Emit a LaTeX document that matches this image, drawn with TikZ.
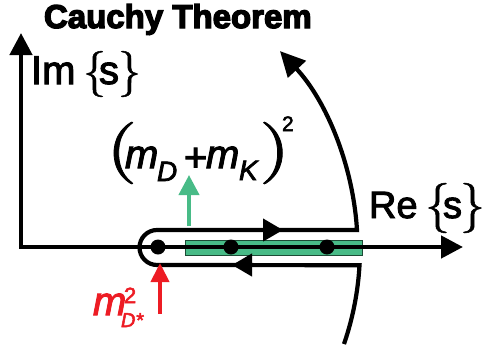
\documentclass[tikz,border=0pt]{standalone}
\usepackage{fontspec}
\setmainfont{Liberation Sans}[FakeBold=2.5]
\newfontfamily\titlefont{Liberation Sans Bold}[FakeBold=4]
\newfontfamily\itfont{Liberation Sans Italic}[FakeBold=2.5]
\newfontfamily\lmfont{lmroman10-regular.otf}[FakeBold=1]
\usetikzlibrary{arrows.meta}
\definecolor{cgreen}{HTML}{48BB87}
\definecolor{cred}{HTML}{ED1C24}
\begin{document}
\begin{tikzpicture}[x=1pt,y=-1pt,
  txt/.style={inner sep=0pt, outer sep=0pt, anchor=base west},
  axisline/.style={line width=4.5pt, {Triangle[length=22pt,width=22pt]}-{Triangle[length=22pt,width=22pt]}},
  contour/.style={line width=4.2pt, line join=miter},
  midtip/.style={line width=4.2pt, -{Triangle[length=20pt,width=22pt]}},
  dot/.style={fill=black},
  fs/.style 2 args={font=\fontsize{#1}{#1}\selectfont #2}
]
\useasboundingbox (0,0) rectangle (482,346);

% green bar
\draw[fill=cgreen, draw=black!60!cgreen, line width=0.9pt] (185,240) rectangle (362,255);

% axes
\coordinate (xtip) at (463,247);
\coordinate (orig) at (21,247);
\coordinate (ytip) at (21,33);
\draw[axisline] (xtip) -- (orig) -- (ytip);

% poles
\fill[dot] (158,247) circle[radius=7.5];
\fill[dot] (231,247) circle[radius=7.5];
\fill[dot] (327,247) circle[radius=7.5];

% contour
\coordinate (lowend) at (344,344);
\draw[contour, -{Triangle[length=25pt,width=24pt]}] (lowend)
  arc[start angle=19, end angle=3.3, radius=294] -- (157,265)
  arc[start angle=90, end angle=270, radius=17.5] -- (357,230)
  arc[start angle=-3.6, end angle=-43, radius=289];
\coordinate (ua) at (262,230); \coordinate (ub) at (283,230);
\draw[midtip] (ua) -- (ub);
\coordinate (la) at (252,265); \coordinate (lb) at (232,265);
\draw[midtip] (la) -- (lb);

% green and red arrows
\coordinate (ga) at (189,226); \coordinate (gb) at (189,175);
\draw[line width=4pt, cgreen, -{Triangle[length=20pt,width=20pt]}] (ga) -- (gb);
\coordinate (ra) at (160,314); \coordinate (rb) at (160,263);
\draw[line width=4pt, cred, -{Triangle[length=19pt,width=18pt]}] (ra) -- (rb);

% title
\node[txt, fs={33}{\titlefont}] (title) at (44,28) {Cauchy Theorem};

% Im{s}
\node[txt, fs={40}{}] (im) at (31,84) {Im};
\node[txt, fs={46}{\lmfont}] (imlb) at (83,85.5) {\{};
\node[txt, fs={40}{}] (ims) at (99,84) {s};
\node[txt, fs={46}{\lmfont}] (imrb) at (118,85.5) {\}};

% Re{s}
\node[txt, fs={38}{}] (re) at (369,218) {Re};
\node[txt, fs={50}{\lmfont}] (relb) at (425,220.5) {\{};
\node[txt, fs={38}{}] (res) at (443,218) {s};
\node[txt, fs={50}{\lmfont}] (rerb) at (460,220.5) {\}};

% (m_D + m_K)^2
\node[txt, fs={62}{\lmfont}] (lp) at (106,168.5) {\scalebox{1.3}[1]{(}};
\node[txt, fs={40}{\itfont}] (m1) at (125,168) {m};
\node[txt, fs={28}{\itfont}] (sd) at (157,181) {D};
\node[txt, fs={40}{}] (plus) at (184,171) {+};
\node[txt, fs={40}{\itfont}] (m2) at (206,168) {m};
\node[txt, fs={28}{\itfont}] (sk) at (239,180) {K};
\node[txt, fs={62}{\lmfont}] (rp) at (259,168.5) {\scalebox{1.3}[1]{)}};
\node[txt, fs={21}{}] (sq) at (282,131) {2};

% m^2_{D*}
\node[txt, cred, fs={40}{\itfont}] (m3) at (93,315) {m};
\node[txt, cred, fs={22}{}] (sq2) at (124,303) {2};
\node[txt, cred, fs={20}{\itfont}] (sds) at (121,327) {D*};
\end{tikzpicture}
\end{document}
